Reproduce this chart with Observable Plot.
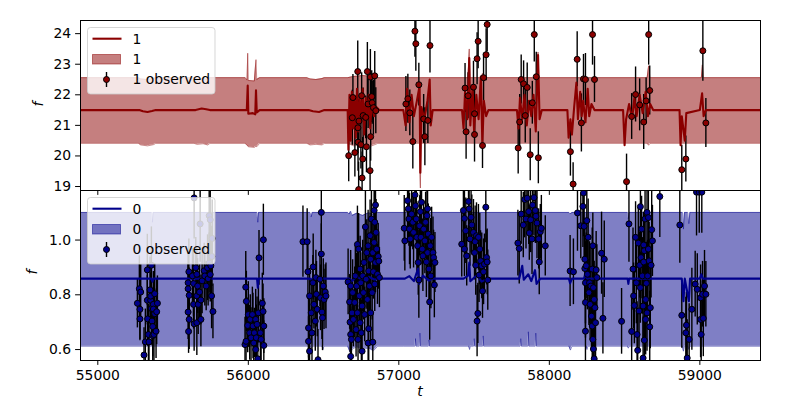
<!DOCTYPE html>
<html><head><meta charset="utf-8">
<script src="https://cdn.jsdelivr.net/npm/d3@7"></script>
<script src="https://cdn.jsdelivr.net/npm/@observablehq/plot@0.6"></script>
<style>
body{margin:0;background:#fff;font-family:"DejaVu Sans",sans-serif;}
#wrap{position:relative;width:800px;height:400px;overflow:hidden;}
#topPanel{position:absolute;left:0;top:0;z-index:2;}
#bottomPanel{position:absolute;left:0;top:190px;z-index:1;}
.legend{position:absolute;z-index:3;}
.alabel{position:absolute;font-style:italic;font-size:13.9px;line-height:1;color:#000;z-index:4;}
</style>
</head><body>
<div id="wrap">
  <div id="topPanel"></div>
  <div id="bottomPanel"></div>
</div>
<script>
// ---------- data ----------
const xDomain = [54885, 59403];
const xTickValues = [55000, 56000, 57000, 58000, 59000];
const topYDomain = [18.87, 24.43];
const topYTicks = [19, 20, 21, 22, 23, 24];
const bottomYDomain = [0.56, 1.181];
const bottomYTicks = [0.6, 0.8, 1.0];
const topLabels = ["1", "1", "1 observed"];
const bottomLabels = ["0", "0", "0 observed"];
const axisLabelY = "f";
const axisLabelX = "t";

// observed [t, f, err] - series "1"
const topObserved = [
[56667,20.01,0.85],[56691,21.25,0.9],[56695,21.91,0.75],[56708,20.11,0.8],[56727,22.76,1.0],[56728,20.92,0.85],[56729,20.45,0.95],[56733,18.90,0.9],[56735,21.14,0.7],[56748,20.37,0.8],[56753,21.97,0.75],[56756,19.28,0.85],[56760,19.90,0.7],[56763,21.32,0.9],[56780,21.26,0.7],[56785,20.30,0.85],[56791,22.76,0.95],[56796,21.70,0.8],[56809,19.52,0.75],[56811,22.58,0.9],[56813,20.63,0.8],[56820,21.94,0.85],[56823,21.74,0.7],[56831,21.58,0.9],[56840,22.62,0.8],[56847,21.48,0.75],
[57047,21.70,0.9],[57060,21.87,0.8],[57073,21.41,0.75],[57093,20.47,0.9],[57107,24.08,0.85],[57113,23.67,0.9],[57133,22.33,0.7],[57165,21.21,0.8],[57173,20.63,0.95],[57193,21.16,0.75],[57207,23.61,0.9],
[57440,22.22,0.8],[57447,20.79,0.9],[57460,21.97,0.75],[57496,22.25,0.85],[57503,21.38,0.8],[57503,20.70,0.9],[57520,23.18,0.85],[57527,23.75,0.9],[57556,20.34,0.75],[57563,22.56,0.8],[57580,23.31,0.85],[57587,24.30,0.9],
[57793,20.26,0.85],[57803,21.11,0.9],[57813,22.50,0.8],[57829,22.36,0.75],[57840,21.32,0.9],[57853,22.24,0.8],[57873,20.04,0.85],[57887,21.74,0.7],[57900,23.97,0.9],[57913,22.59,0.8],[57927,19.94,0.85],
[58140,20.14,0.8],[58158,19.08,0.7],[58185,23.16,0.9],[58213,21.08,0.95],[58227,22.52,0.8],[58240,22.50,0.85],[58287,23.97,1.0],[58300,22.50,0.75],
[58513,19.16,0.9],[58547,21.29,0.75],[58573,22.01,0.9],[58600,21.67,0.85],[58627,21.11,0.9],[58643,21.80,0.75],[58660,23.97,1.0],[58667,22.14,0.8],
[58880,19.55,0.8],[58907,19.90,0.75],[59020,23.44,1.0],[59040,21.08,0.8]
];

// observed [t, f, err] - series "0"
const bottomObserved = [
[55263,0.769,0.09],[55276,0.822,0.12],[55285,0.810,0.1],[55280,0.747,0.11],[55280,0.712,0.08],[55307,0.580,0.1],[55316,0.628,0.12],[55329,0.891,0.13],[55329,0.780,0.09],[55331,0.712,0.1],[55336,0.655,0.11],[55340,0.628,0.09],[55347,0.818,0.12],[55351,0.780,0.1],[55351,0.795,0.08],[55356,0.908,0.14],[55356,0.750,0.1],[55360,0.704,0.09],[55365,0.684,0.11],[55365,0.651,0.1],[55369,0.765,0.12],[55369,0.748,0.08],[55373,0.655,0.1],[55378,0.804,0.11],[55378,0.731,0.09],[55387,0.667,0.1],[55391,0.738,0.12],[55396,0.769,0.1],
[55600,0.844,0.11],[55600,0.822,0.09],[55600,0.737,0.1],[55603,0.666,0.08],[55605,0.884,0.12],[55607,0.798,0.1],[55607,0.710,0.11],[55629,0.869,0.1],[55636,0.841,0.12],[55636,0.765,0.09],[55640,0.694,0.1],[55640,1.154,0.15],[55651,0.899,0.11],[55658,0.875,0.1],[55658,0.796,0.09],[55658,0.698,0.12],[55663,0.832,0.1],[55667,0.765,0.11],[55676,0.810,0.1],[55680,1.059,0.14],[55685,0.781,0.09],[55685,0.710,0.1],[55693,0.851,0.12],[55707,0.888,0.1],[55711,0.869,0.11],[55720,0.832,0.09],[55729,0.899,0.12],[55733,0.859,0.1],[55740,0.916,0.11],[55740,1.089,0.15],[55747,0.874,0.1],[55747,1.074,0.13],[55751,0.906,0.1],[55756,0.796,0.12],[55758,0.940,0.11],[55760,1.006,0.14],[55765,0.739,0.1],
[55978,0.618,0.1],[55983,0.828,0.13],[55985,0.630,0.09],[55987,0.776,0.11],[55996,0.688,0.1],[56000,0.728,0.12],[56009,0.661,0.1],[56013,0.710,0.09],[56018,0.643,0.11],[56027,0.728,0.1],[56031,0.686,0.12],[56036,0.624,0.1],[56040,0.661,0.09],[56049,0.710,0.11],[56049,0.600,0.1],[56053,0.643,0.12],[56058,0.692,0.1],[56063,0.566,0.09],[56067,0.734,0.11],[56071,0.935,0.1],[56080,0.661,0.12],[56085,0.637,0.1],[56093,0.769,0.11],[56098,0.739,0.1],[56100,1.001,0.13],[56103,0.686,0.1],[56103,0.615,0.09],
[56363,0.994,0.13],[56391,0.994,0.12],[56396,0.884,0.1],[56400,0.679,0.11],[56400,0.630,0.09],[56407,0.796,0.1],[56407,0.594,0.12],[56418,0.734,0.1],[56423,0.661,0.11],[56429,0.844,0.1],[56431,0.902,0.12],[56436,0.765,0.09],[56445,0.704,0.11],[56449,0.863,0.1],[56453,0.802,0.12],[56458,0.747,0.1],[56463,0.563,0.11],[56476,0.857,0.1],[56480,0.789,0.12],[56485,0.949,0.11],[56485,1.101,0.14],[56489,0.737,0.1],[56493,0.716,0.12],[56498,0.832,0.1],[56503,0.783,0.11],[56511,0.810,0.1],[56516,0.796,0.12],
[56663,0.847,0.12],[56673,0.774,0.1],[56676,0.700,0.11],[56680,0.832,0.13],[56680,0.655,0.1],[56680,0.575,0.12],[56685,0.637,0.1],[56689,0.734,0.11],[56693,0.808,0.12],[56698,0.710,0.1],[56707,0.772,0.13],[56711,0.869,0.11],[56716,0.673,0.1],[56720,0.832,0.12],[56725,0.984,0.14],[56725,0.734,0.1],[56729,0.637,0.11],[56733,0.967,0.13],[56738,0.796,0.1],[56743,0.894,0.12],[56743,0.698,0.1],[56747,0.844,0.11],[56751,0.661,0.12],[56756,0.759,0.1],[56756,0.594,0.11],[56760,0.869,0.13],[56765,0.808,0.1],[56769,0.918,0.12],[56773,0.728,0.1],[56778,1.048,0.14],[56783,0.857,0.11],[56787,0.954,0.12],[56791,0.783,0.1],[56796,0.979,0.13],[56796,0.624,0.11],[56800,0.887,0.1],[56800,0.676,0.12],[56805,0.832,0.11],[56809,1.016,0.13],[56813,0.930,0.1],[56813,0.734,0.12],[56818,1.077,0.14],[56823,0.808,0.1],[56827,0.627,0.11],[56827,0.954,0.12],[56831,0.884,0.1],[56836,1.108,0.15],[56836,0.991,0.12],[56840,0.839,0.1],[56840,1.065,0.13],[56845,1.128,0.14],[56845,0.918,0.11],[56849,1.028,0.12],[56853,0.967,0.1],[56858,0.875,0.11],[56863,0.940,0.12],[56867,0.923,0.1],[56871,0.863,0.11],
[57036,1.043,0.12],[57040,0.997,0.11],[57058,1.144,0.14],[57063,1.114,0.12],[57067,1.077,0.1],[57071,1.040,0.13],[57076,1.004,0.11],[57085,1.095,0.12],[57093,1.065,0.1],[57098,1.028,0.13],[57107,1.165,0.15],[57111,1.125,0.12],[57116,1.077,0.11],[57120,1.010,0.13],[57125,0.979,0.1],[57129,0.918,0.12],[57133,0.854,0.14],[57138,1.052,0.11],[57143,1.104,0.13],[57147,1.010,0.1],[57151,1.138,0.12],[57156,0.967,0.11],[57160,0.942,0.13],[57165,1.040,0.1],[57173,0.997,0.12],[57178,1.065,0.11],[57183,0.920,0.13],[57187,1.089,0.12],[57191,0.954,0.1],[57191,1.114,0.13],[57196,1.022,0.11],[57200,0.894,0.12],[57205,0.774,0.14],[57209,0.979,0.1],[57213,0.869,0.12],[57218,1.010,0.11],[57227,0.954,0.13],[57231,0.936,0.1],[57236,0.836,0.12],[57240,0.918,0.11],
[57418,0.985,0.12],[57429,1.108,0.13],[57436,1.079,0.11],[57436,0.967,0.1],[57445,1.034,0.12],[57451,0.942,0.11],[57463,1.141,0.14],[57467,1.114,0.12],[57473,1.004,0.1],[57480,1.083,0.13],[57485,1.055,0.11],[57496,1.028,0.12],[57503,0.954,0.1],[57507,0.994,0.13],[57511,0.908,0.11],[57516,1.016,0.12],[57520,0.704,0.13],[57525,0.732,0.11],[57529,1.010,0.12],[57533,0.872,0.1],[57538,0.967,0.13],[57543,0.924,0.11],[57551,0.906,0.12],[57556,0.814,0.1],[57563,0.884,0.12],[57569,0.912,0.11],[57578,1.120,0.13],[57583,0.936,0.1],[57587,0.920,0.12],[57591,0.854,0.11],
[57791,0.989,0.12],[57800,0.969,0.13],[57813,1.095,0.11],[57827,1.055,0.12],[57836,1.148,0.14],[57845,1.077,0.11],[57853,1.153,0.13],[57863,1.104,0.12],[57867,1.026,0.1],[57876,1.074,0.12],[57885,1.004,0.13],[57889,1.128,0.11],[57898,1.155,0.14],[57907,1.108,0.12],[57911,1.087,0.1],[57918,1.062,0.13],[57929,1.004,0.11],[57933,0.920,0.12],[57940,1.030,0.1],[57947,1.043,0.12],[57973,0.979,0.11],
[58138,0.887,0.13],[58160,0.884,0.12],[58187,1.099,0.14],[58209,1.052,0.12],[58223,1.123,0.15],[58227,1.172,0.16],[58231,1.050,0.13],[58236,0.930,0.14],[58236,0.896,0.12],[58240,0.844,0.15],[58240,0.772,0.13],[58240,0.667,0.14],[58245,0.906,0.12],[58249,1.071,0.15],[58253,0.875,0.13],[58258,1.010,0.14],[58263,0.808,0.12],[58267,0.844,0.15],[58271,0.765,0.13],[58276,0.832,0.14],[58280,0.722,0.12],[58285,0.894,0.15],[58285,0.686,0.13],[58289,0.637,0.14],[58289,0.979,0.12],[58293,0.826,0.15],[58293,0.602,0.13],[58298,0.783,0.14],[58298,0.566,0.12],[58303,0.753,0.15],[58307,0.698,0.13],[58311,0.891,0.14],[58316,0.863,0.12],[58347,0.952,0.15],[58356,0.714,0.13],[58365,0.930,0.14],
[58480,0.703,0.12],[58529,1.059,0.14],[58547,0.666,0.13],[58556,0.894,0.15],[58560,0.796,0.12],[58565,0.761,0.14],[58573,1.010,0.13],[58578,0.844,0.15],[58583,0.655,0.12],[58587,0.597,0.14],[58591,0.989,0.13],[58596,0.741,0.15],[58600,0.908,0.12],[58605,1.122,0.14],[58605,0.826,0.13],[58609,0.936,0.15],[58613,1.040,0.12],[58618,0.869,0.14],[58623,0.759,0.13],[58623,0.569,0.15],[58627,0.982,0.12],[58627,0.920,0.14],[58631,0.961,0.13],[58631,0.634,0.15],[58636,1.077,0.12],[58640,0.783,0.14],[58640,0.710,0.13],[58645,0.842,0.15],[58649,1.101,0.12],[58649,0.734,0.14],[58653,0.869,0.13],[58658,1.082,0.15],[58658,0.967,0.12],[58663,0.924,0.14],[58667,0.683,0.13],[58671,0.753,0.15],[58676,0.908,0.12],[58680,1.038,0.14],[58685,0.997,0.13],[58734,1.159,0.15],
[58867,1.055,0.14],[58880,0.725,0.12],[58907,0.661,0.13],[58911,0.689,0.12],[58916,0.569,0.14],[58929,0.637,0.13],[58947,0.747,0.15],[58969,0.839,0.12],[58978,1.175,0.16],[58983,0.820,0.13],[58996,1.175,0.15],[59005,0.789,0.12],[59005,0.710,0.14],[59009,0.655,0.13],[59013,1.175,0.15],[59018,0.802,0.12],[59023,0.714,0.14],[59031,0.832,0.13],[59040,0.802,0.12]
];

// model mean [t, value] - series "1"
const topModelMean = [
[54885,21.5],[55275,21.5],[55300,21.46],[55330,21.44],[55360,21.47],[55385,21.5],[55650,21.5],[55690,21.55],[55720,21.53],[55745,21.5],
[55990,21.5],[55996,22.3],[56000,21.38],[56030,21.4],[56046,21.36],[56051,22.15],[56056,21.42],[56075,21.5],
[56400,21.5],[56430,21.46],[56470,21.44],[56505,21.5],
[56660,21.5],[56665,20.2],[56672,22.0],[56680,20.5],[56688,22.1],[56697,20.9],[56705,21.9],[56714,20.6],[56722,22.2],[56730,20.8],[56740,21.9],[56750,21.1],[56760,22.2],[56770,20.7],[56780,21.9],[56790,21.2],[56800,22.0],[56810,20.9],[56820,21.8],[56835,21.3],[56850,21.6],[56870,21.5],
[57030,21.5],[57045,21.0],[57055,22.2],[57070,21.1],[57085,22.0],[57100,21.3],[57120,21.8],[57138,22.3],[57143,19.45],[57150,21.6],[57170,21.2],[57190,21.8],[57205,22.5],[57212,21.0],[57225,21.5],
[57420,21.5],[57430,20.9],[57440,22.1],[57455,21.2],[57468,23.2],[57475,21.0],[57490,22.3],[57500,20.8],[57515,22.0],[57530,21.2],[57545,22.6],[57555,20.4],[57565,21.8],[57580,21.3],[57595,21.5],
[57785,21.5],[57795,20.9],[57805,21.9],[57820,21.2],[57835,22.0],[57850,21.0],[57865,21.8],[57880,21.3],[57895,22.0],[57910,20.8],[57925,23.3],[57935,21.2],[57950,21.5],
[58120,21.5],[58128,20.6],[58140,21.2],[58150,20.7],[58165,21.6],[58180,22.4],[58190,21.2],[58205,22.1],[58215,21.3],[58225,21.8],[58240,21.1],[58255,22.2],[58265,21.3],[58280,21.7],[58300,21.5],
[58490,21.5],[58500,20.35],[58510,21.2],[58530,21.7],[58550,21.2],[58565,21.9],[58580,21.3],[58600,22.0],[58620,21.4],[58640,22.1],[58655,21.3],[58670,21.7],[58690,21.5],
[58865,21.5],[58872,20.35],[58880,21.3],[58900,20.5],[58910,21.4],[59000,21.5],[59015,22.05],[59025,21.3],[59040,21.5],[59403,21.5]
];

// model band [t, lo, hi] - series "1"
const topModelBand = [
[54885,20.41,22.56],[55270,20.41,22.56],[55285,20.36,22.52],[55330,20.33,22.5],[55370,20.37,22.53],[55385,20.41,22.56],
[55640,20.41,22.56],[55660,20.38,22.52],[55700,20.4,22.53],[55730,20.36,22.5],[55745,20.41,22.56],
[55980,20.41,22.56],[55992,20.34,22.48],[55996,20.34,23.36],[56000,20.3,22.47],[56040,20.28,22.45],[56051,20.32,23.15],[56056,20.3,22.5],[56075,20.41,22.56],
[56390,20.41,22.56],[56410,20.36,22.52],[56450,20.38,22.5],[56490,20.36,22.53],[56505,20.41,22.56],
[56660,20.41,22.56],[56700,20.33,22.6],[56760,20.36,22.63],[56820,20.33,22.6],[56860,20.41,22.56],
[57138,20.41,22.56],[57143,18.95,22.56],[57148,20.41,22.56],
[57460,20.41,22.56],[57468,20.41,23.5],[57474,20.41,22.56],
[57550,20.41,22.56],[57556,20.3,22.7],[57562,20.41,22.56],
[57920,20.41,22.56],[57925,20.41,23.4],[57930,20.41,22.56],
[58650,20.41,22.56],[58660,20.35,22.95],[58668,20.41,22.56],
[59010,20.41,22.56],[59017,20.41,22.98],[59024,20.41,22.56],
[59403,20.41,22.56]
];

// model mean [t, value] - series "0"
const bottomModelMean = [
[54885,0.859],[55355,0.859],[55363,0.848],[55370,0.859],[56058,0.859],[56063,0.826],[56068,0.859],[56410,0.859],[56418,0.850],[56425,0.859],
[56670,0.859],[56690,0.85],[56720,0.868],[56760,0.852],[56800,0.866],[56840,0.855],[56860,0.859],
[57040,0.859],[57070,0.868],[57100,0.85],[57128,0.896],[57135,0.84],[57160,0.87],[57200,0.852],[57225,0.859],
[57430,0.859],[57460,0.87],[57468,0.918],[57475,0.85],[57520,0.872],[57550,0.848],[57590,0.859],
[57800,0.859],[57820,0.906],[57830,0.855],[57860,0.875],[57880,0.85],[57905,0.89],[57915,0.84],[57940,0.859],
[58130,0.859],[58138,0.842],[58150,0.859],[58230,0.859],[58240,0.88],[58250,0.859],[58520,0.859],[58525,0.84],[58530,0.859],
[58880,0.859],[58891,0.777],[58900,0.859],[58927,0.777],[58935,0.859],[59000,0.859],[59010,0.875],[59020,0.859],[59403,0.859]
];

// model band [t, lo, hi] - series "0"
const bottomModelBand = [
[54885,0.612,1.101],[55358,0.612,1.101],[55363,0.612,1.065],[55368,0.612,1.101],
[56058,0.612,1.101],[56063,0.600,1.065],[56068,0.612,1.101],
[56410,0.612,1.101],[56418,0.605,1.085],[56425,0.612,1.101],[56490,0.612,1.101],[56496,0.600,1.101],[56502,0.612,1.101],
[56660,0.612,1.101],[56670,0.598,1.095],[56680,0.585,1.105],[56690,0.602,1.09],[56720,0.61,1.098],[56760,0.6,1.09],[56800,0.606,1.10],[56830,0.595,1.092],[56860,0.612,1.101],
[57030,0.612,1.101],[57106,0.612,1.101],[57110,0.64,1.101],[57114,0.612,1.101],[57136,0.612,1.101],[57140,0.66,1.101],[57144,0.612,1.101],[57196,0.612,1.101],[57200,0.635,1.101],[57204,0.612,1.101],
[57465,0.612,1.101],[57470,0.60,1.09],[57475,0.612,1.101],[57496,0.612,1.101],[57500,0.64,1.101],[57504,0.612,1.101],[57556,0.612,1.101],[57560,0.65,1.101],[57564,0.612,1.101],
[57806,0.612,1.101],[57810,0.64,1.095],[57814,0.612,1.101],[57856,0.612,1.101],[57860,0.665,1.101],[57864,0.612,1.101],[57906,0.612,1.101],[57910,0.66,1.101],[57914,0.612,1.101],
[58130,0.612,1.101],[58140,0.598,1.095],[58150,0.612,1.101],[58245,0.612,1.101],[58250,0.60,1.10],[58255,0.612,1.101],
[58520,0.612,1.101],[58525,0.605,1.078],[58530,0.612,1.101],
[58885,0.612,1.101],[58891,0.594,1.04],[58898,0.612,1.101],[58920,0.612,1.101],[58927,0.60,1.06],[58934,0.612,1.101],[59403,0.612,1.101]
];

// ---------- rendering ----------
const RED = "#8b0000", BLUE = "#00008b";
const obsRows = a => a.map(([t, f, e]) => ({t, f, e}));
const meanRows = a => a.map(([t, v]) => ({t, v}));
const bandRows = a => a.map(([t, lo, hi]) => ({t, lo, hi}));

function panel({obs, mean, band, color, yDomain, yTicks, yFormat, height, marginTop, marginBottom, showXLabels}) {
  const O = obsRows(obs), M = meanRows(mean), B = bandRows(band);
  return Plot.plot({
    width: 800, height, marginLeft: 80, marginRight: 40, marginTop, marginBottom,
    style: {fontFamily: "DejaVu Sans, sans-serif", fontSize: "13.9px", background: "transparent", overflow: "visible", color: "#000"},
    x: {domain: xDomain},
    y: {domain: yDomain},
    marks: [
      Plot.areaY(B, {x: "t", y1: "lo", y2: "hi", fill: color, fillOpacity: 0.5, curve: "linear", clip: true}),
      Plot.line(B, {x: "t", y: "lo", stroke: color, strokeOpacity: 0.45, strokeWidth: 1, clip: true}),
      Plot.line(B, {x: "t", y: "hi", stroke: color, strokeOpacity: 0.45, strokeWidth: 1, clip: true}),
      Plot.ruleX(O, {x: "t", y1: d => d.f - d.e, y2: d => d.f + d.e, stroke: "black", strokeWidth: 1.4, clip: true}),
      Plot.line(M, {x: "t", y: "v", stroke: color, strokeWidth: 2.1, clip: true}),
      Plot.dot(O, {x: "t", y: "f", r: 3, fill: color, stroke: "black", strokeWidth: 1, clip: true}),
      Plot.frame({stroke: "black", strokeWidth: 1}),
      Plot.axisY({ticks: yTicks, tickFormat: yFormat, tickSize: 4.9, tickPadding: 4.5, label: null}),
      Plot.axisX({ticks: xTickValues, tickFormat: showXLabels ? d => String(d) : () => "", tickSize: 4.9, tickPadding: 4.9, label: null})
    ]
  });
}

document.getElementById("topPanel").append(panel({
  obs: topObserved, mean: topModelMean, band: topModelBand, color: RED,
  yDomain: topYDomain, yTicks: topYTicks, yFormat: d => String(d),
  height: 190, marginTop: 20, marginBottom: 0, showXLabels: false
}));
document.getElementById("bottomPanel").append(panel({
  obs: bottomObserved, mean: bottomModelMean, band: bottomModelBand, color: BLUE,
  yDomain: bottomYDomain, yTicks: bottomYTicks, yFormat: d3.format(".1f"),
  height: 210, marginTop: 0, marginBottom: 40, showXLabels: true
}));

// legends
function legend(left, top, labels, color) {
  const div = document.createElement("div");
  div.className = "legend";
  div.style.left = left + "px";
  div.style.top = top + "px";
  div.innerHTML = `<svg width="129" height="68" style="display:block;font-family:'DejaVu Sans',sans-serif;font-size:13.9px">
    <rect x="0.5" y="0.5" width="127.5" height="66.5" rx="3" fill="white" fill-opacity="0.8" stroke="#cccccc" stroke-opacity="0.8"/>
    <line x1="5.5" x2="34.5" y1="11.7" y2="11.7" stroke="${color}" stroke-width="2.1"/>
    <rect x="5.5" y="27.5" width="28" height="9.5" fill="${color}" fill-opacity="0.5" stroke="${color}" stroke-opacity="0.5"/>
    <line x1="19.5" x2="19.5" y1="45" y2="60" stroke="black" stroke-width="1.4"/>
    <circle cx="19.5" cy="52.5" r="3" fill="${color}" stroke="black" stroke-width="1"/>
    <text x="45.5" y="11.7" dy="0.35em">${labels[0]}</text>
    <text x="45.5" y="31.8" dy="0.35em">${labels[1]}</text>
    <text x="45.5" y="52.3" dy="0.35em">${labels[2]}</text>
  </svg>`;
  document.getElementById("wrap").append(div);
}
legend(87, 27, topLabels, RED);
legend(87, 197, bottomLabels, BLUE);

// axis labels
function label(text, x, y, rotate) {
  const d = document.createElement("div");
  d.className = "alabel";
  d.textContent = text;
  d.style.left = x + "px";
  d.style.top = y + "px";
  d.style.transform = "translate(-50%,-50%)" + (rotate ? " rotate(-90deg)" : "");
  document.getElementById("wrap").append(d);
}
label(axisLabelY, 39, 104, true);
label(axisLabelY, 33, 272, true);
label(axisLabelX, 420, 392, false);
</script>
</body></html>
